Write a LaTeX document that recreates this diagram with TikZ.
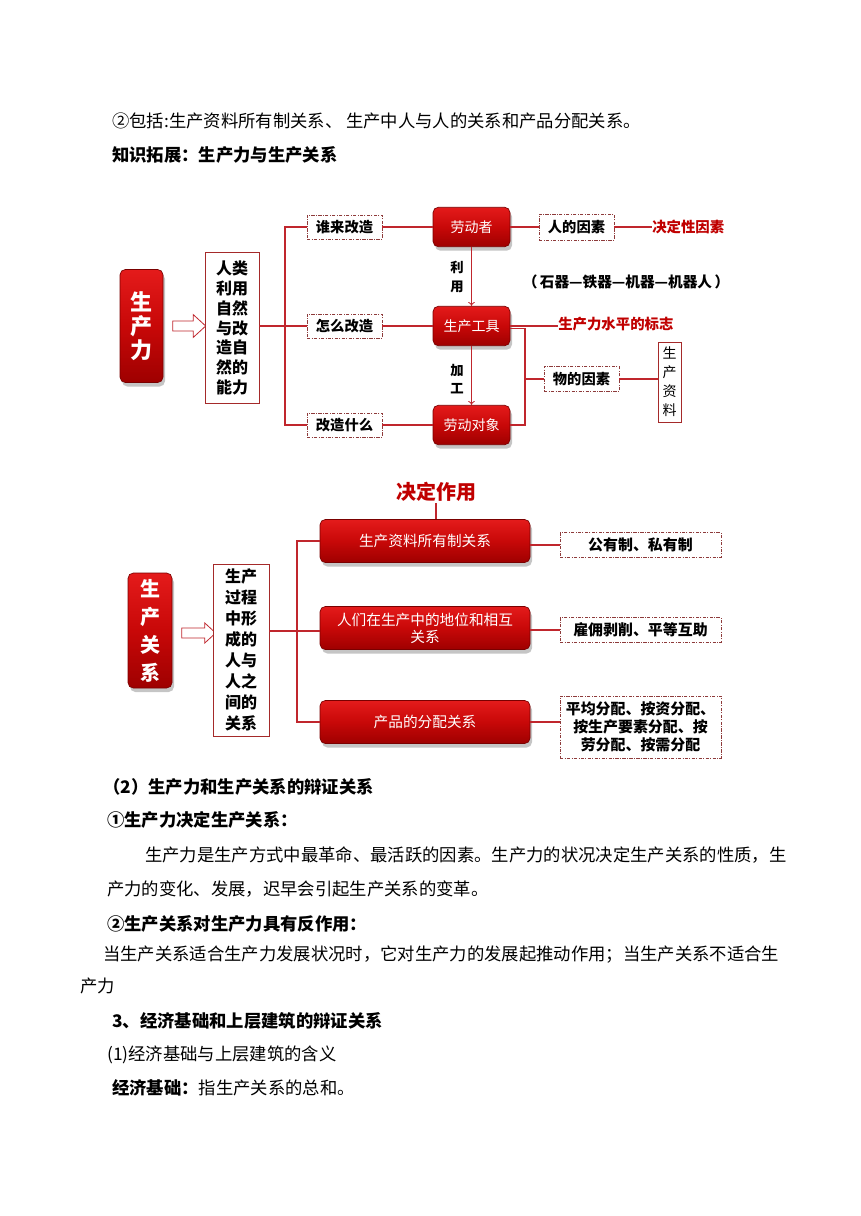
\documentclass[tikz,border=0pt]{standalone}
\usepackage{fontspec}
\setmainfont{Noto Sans CJK SC}
\usetikzlibrary{shapes.arrows,shadows,arrows.meta}
\definecolor{lnred}{HTML}{C0262D}
\definecolor{txred}{HTML}{C00000}
\definecolor{dashred}{HTML}{8E3B3B}
\definecolor{boxtop}{HTML}{E41B1B}
\definecolor{boxmid}{HTML}{C80808}
\definecolor{boxbot}{HTML}{9E0000}
\definecolor{boxedge}{HTML}{7A0000}
\definecolor{frred}{HTML}{A52A2A}
\tikzset{
  body/.style={anchor=west, inner sep=0pt, font=\fontsize{13}{15}\selectfont},
  bodyb/.style={anchor=west, inner sep=0pt, font=\fontsize{13}{15}\selectfont\bfseries},
  redbox/.style={rounded corners=4pt, top color=boxtop, bottom color=boxbot, middle color=boxmid, draw=boxedge,
    line width=0.5pt, text=white, inner sep=0pt,
    drop shadow={opacity=0.45, shadow xshift=1.5pt, shadow yshift=-3pt}},
  dashbox/.style={draw=dashred, line width=0.6pt, dash pattern=on 2.5pt off 1pt on 0.7pt off 1pt,
    inner sep=0pt, fill=white, font=\fontsize{10.7}{13}\selectfont\bfseries},
  framebox/.style={draw=frred, line width=0.7pt, inner sep=0pt, fill=white},
  conn/.style={draw=lnred, line width=0.9pt},
  hollowarrow/.style={single arrow, draw=lnred, fill=white, line width=0.6pt,
    single arrow tip angle=85, inner xsep=0pt, inner ysep=3.4pt, anchor=center},
  redlabel/.style={anchor=west, inner sep=0pt, text=txred, font=\fontsize{10.8}{12}\selectfont\bfseries},
}
\begin{document}
\begin{tikzpicture}[x=0.75pt,y=-0.75pt]
\fill[white] (0,0) rectangle (860,1216);
\useasboundingbox (0,0) rectangle (860,1216);

% ---------- top text ----------
\node[body] (t1) at (112,121) {②包括:生产资料所有制关系、 生产中人与人的关系和产品分配关系。};
\node[bodyb] (t2) at (112,155) {知识拓展：生产力与生产关系};

% ---------- diagram 1 ----------
\node[redbox, minimum width=32.25pt, minimum height=84.75pt, align=center,
  font=\fontsize{16.5}{18}\selectfont\bfseries] (scl) at (141.5,326) {生\\产\\力};
\node[hollowarrow, single arrow head extend=4.9pt, minimum height=24.75pt] (ar1) at (186.5,326) {};
\node[framebox, minimum width=40.5pt, minimum height=113.25pt, align=center,
  font=\fontsize{12}{14.8}\selectfont\bfseries] (abil) at (232,328) {人类\\利用\\自然\\与改\\造自\\然的\\能力};

\coordinate (j1) at (285,326);
\node[dashbox, minimum width=56.25pt, minimum height=18pt] (who) at (344.5,227) {谁来改造};
\node[dashbox, minimum width=56.25pt, minimum height=18pt] (how) at (344.5,326) {怎么改造};
\node[dashbox, minimum width=56.25pt, minimum height=18pt] (what) at (344.5,425) {改造什么};
\draw[conn] (abil.east |- j1) -- (j1) -- (how.west);
\draw[conn] (who.west) -| (j1) |- (what.west);

\node[redbox, minimum width=57.75pt, minimum height=29.6pt, font=\fontsize{10.5}{12}\selectfont] (worker) at (471.5,227) {劳动者};
\node[redbox, minimum width=57.75pt, minimum height=29.6pt, font=\fontsize{10.5}{12}\selectfont] (tool) at (471.5,326) {生产工具};
\node[redbox, minimum width=57.75pt, minimum height=29.6pt, font=\fontsize{10.5}{12}\selectfont] (object) at (471.5,425) {劳动对象};
\draw[conn] (who.east) -- (worker.west);
\draw[conn] (how.east) -- (tool.west);
\draw[conn] (what.east) -- (object.west);

\draw[draw=lnred, line width=0.6pt, -{To[length=3pt,width=5pt]}] (worker.south) -- (tool.north);
\draw[draw=lnred, line width=0.6pt, -{To[length=3pt,width=5pt]}] (tool.south) -- (object.north);
\node[align=center, inner sep=0pt, font=\fontsize{10}{14}\selectfont\bfseries] (lb1) at (457,277) {利\\用};
\node[align=center, inner sep=0pt, font=\fontsize{10}{13}\selectfont\bfseries] (lb2) at (457,379) {加\\工};

\node[dashbox, minimum width=56.25pt, minimum height=19.5pt] (human) at (576.5,227) {人的因素};
\node[redlabel] (decisive) at (652,227) {决定性因素};
\draw[conn] (worker.east) -- (human.west);
\draw[conn] (human.east) -- (decisive.west);

\node[inner sep=0pt, font=\fontsize{11}{12}\selectfont\bfseries] (evo) at (626,282) {（\,石器—铁器—机器—机器人\,）};

\node[redlabel] (sign) at (558,324) {生产力水平的标志};
\draw[conn] (tool.east) -- (tool.east -| sign.west);

\coordinate (j3) at (525,379);
\draw[conn] ([yshift=-2pt]tool.east) -| (j3) |- (object.east);
\node[dashbox, minimum width=56.25pt, minimum height=18.75pt] (mat) at (581.5,379) {物的因素};
\draw[conn] (j3) -- (mat.west);
\node[framebox, minimum width=17.25pt, minimum height=60pt, align=center,
  font=\fontsize{10.5}{14.3}\selectfont] (means) at (669.5,382) {生\\产\\资\\料};
\draw[conn] (mat.east) -- (mat.east -| means.west);

% ---------- diagram 2 ----------
\node[text=txred, inner sep=1pt, font=\fontsize{15}{17}\selectfont\bfseries] (decide) at (436,492) {决定作用};
\node[redbox, minimum width=33pt, minimum height=86.25pt, align=center,
  font=\fontsize{15}{21}\selectfont\bfseries] (scr) at (150,630.5) {生\\产\\关\\系};
\node[hollowarrow, single arrow head extend=3.8pt, minimum height=25.5pt] (ar2) at (196,633) {};
\node[framebox, minimum width=42pt, minimum height=129pt, align=center,
  font=\fontsize{12}{15.7}\selectfont\bfseries] (abil2) at (241,650) {生产\\过程\\中形\\成的\\人与\\人之\\间的\\关系};

\coordinate (j2) at (297,631);
\node[redbox, minimum width=157.5pt, minimum height=32.25pt, align=center,
  font=\fontsize{11}{12.75}\selectfont] (own) at (425,541) {生产资料所有制关系};
\node[redbox, minimum width=157.5pt, minimum height=32.25pt, align=center,
  font=\fontsize{11}{12.75}\selectfont] (status) at (425,628) {人们在生产中的地位和相互\\关系};
\node[redbox, minimum width=157.5pt, minimum height=32.25pt, align=center,
  font=\fontsize{11}{12.75}\selectfont] (distr) at (425,722) {产品的分配关系};
\draw[conn] (abil2.east |- j2) -- (j2) -- (j2 -| status.west);
\draw[conn] (own.west) -| (j2) |- (distr.west);
\draw[conn] (decide.south) -- (decide.south |- own.north);

\node[dashbox, minimum width=120.75pt, minimum height=18.75pt,
  font=\fontsize{11.2}{13.5}\selectfont\bfseries] (pp) at (640.5,545) {公有制、私有制};
\node[dashbox, minimum width=120.75pt, minimum height=18.75pt,
  font=\fontsize{11.2}{13.5}\selectfont\bfseries] (emp) at (640.5,630) {雇佣剥削、平等互助};
\node[dashbox, minimum width=120.75pt, minimum height=46.5pt, align=center,
  font=\fontsize{11.2}{13.5}\selectfont\bfseries] (dist) at (640.5,727) {平均分配、按资分配、\\按生产要素分配、按\\劳分配、按需分配};
\draw[conn] (own.east |- pp.west) -- (pp.west);
\draw[conn] (status.east |- emp.west) -- (emp.west);
\draw[conn] (distr.east) -- (distr.east -| dist.west);

% ---------- bottom text ----------
\node[bodyb] (t3) at (103,787) {（2）生产力和生产关系的辩证关系};
\node[bodyb] (t4) at (107,820) {①生产力决定生产关系：};
\node[body] (t5) at (145,855) {生产力是生产方式中最革命、最活跃的因素。生产力的状况决定生产关系的性质，生};
\node[body] (t6) at (107,889) {产力的变化、发展，迟早会引起生产关系的变革。};
\node[bodyb] (t7) at (107,924) {②生产关系对生产力具有反作用：};
\node[body] (t8) at (103,955) {当生产关系适合生产力发展状况时，它对生产力的发展起推动作用；当生产关系不适合生};
\node[body] (t9) at (80,986) {产力};
\node[bodyb] (t10) at (112,1021) {3、经济基础和上层建筑的辩证关系};
\node[body] (t11) at (107,1055) {(1)经济基础与上层建筑的含义};
\node[body] (t12) at (112,1088) {\textbf{经济基础：}指生产关系的总和。};
\end{tikzpicture}
\end{document}
